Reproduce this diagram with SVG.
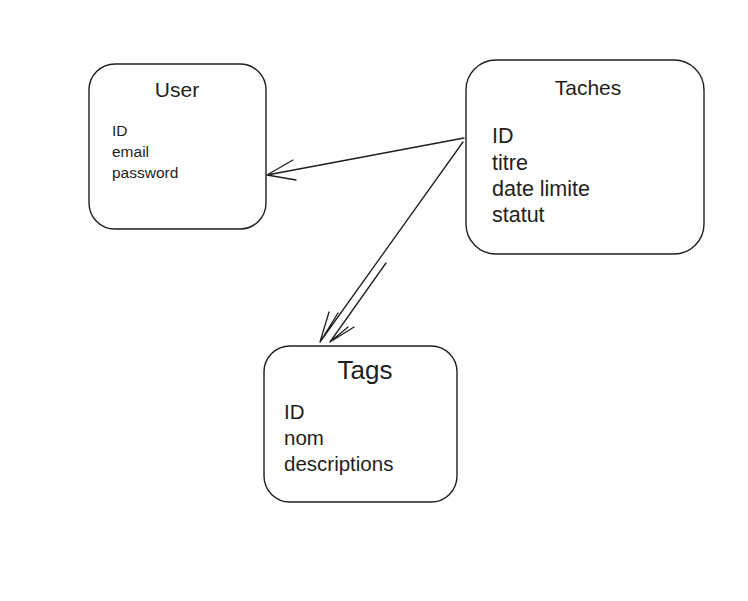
<svg xmlns="http://www.w3.org/2000/svg" width="748" height="601" viewBox="0 0 748 601">
<style>
.box{fill:#ffffff;stroke:#1e1e1e;stroke-width:1.4}
.t{font-family:"Liberation Sans","DejaVu Sans",sans-serif;fill:#1e1e1e}
.c{stroke:#1e1e1e;stroke-width:1.3;fill:none;stroke-linecap:round}
</style>
<rect width="748" height="601" fill="#ffffff"/>
<g id="user">
<rect class="box" x="89" y="64" width="177" height="165" rx="26"/>
<text class="t" x="177" y="97" font-size="21" text-anchor="middle">User</text>
<text class="t" x="112" y="136" font-size="15.5">ID</text>
<text class="t" x="112" y="157" font-size="15.5">email</text>
<text class="t" x="112" y="178" font-size="15.5">password</text>
</g>
<g id="taches">
<rect class="box" x="466" y="60" width="238" height="194" rx="30"/>
<text class="t" x="588" y="95" font-size="21" text-anchor="middle">Taches</text>
<text class="t" x="492" y="143" font-size="21.5">ID</text>
<text class="t" x="492" y="170" font-size="21.5">titre</text>
<text class="t" x="492" y="196" font-size="21.5">date limite</text>
<text class="t" x="492" y="222" font-size="21.5">statut</text>
</g>
<g id="tags">
<rect class="box" x="264" y="346" width="193" height="156" rx="26"/>
<text class="t" x="365" y="379" font-size="26" text-anchor="middle">Tags</text>
<text class="t" x="284" y="419" font-size="20.5">ID</text>
<text class="t" x="284" y="445" font-size="20.5">nom</text>
<text class="t" x="284" y="471" font-size="20.5">descriptions</text>
</g>
<g id="connectors">
<path class="c" d="M464 138 L267 175 M267 175 L293 160 M267 175 L296 180"/>
<path class="c" d="M463 142 L320 342 M386 263 L330 342 M320 342 L329 312 M320 342 L338 313 M330 342 L354 327 M330 342 L348 327"/>
</g>
</svg>
